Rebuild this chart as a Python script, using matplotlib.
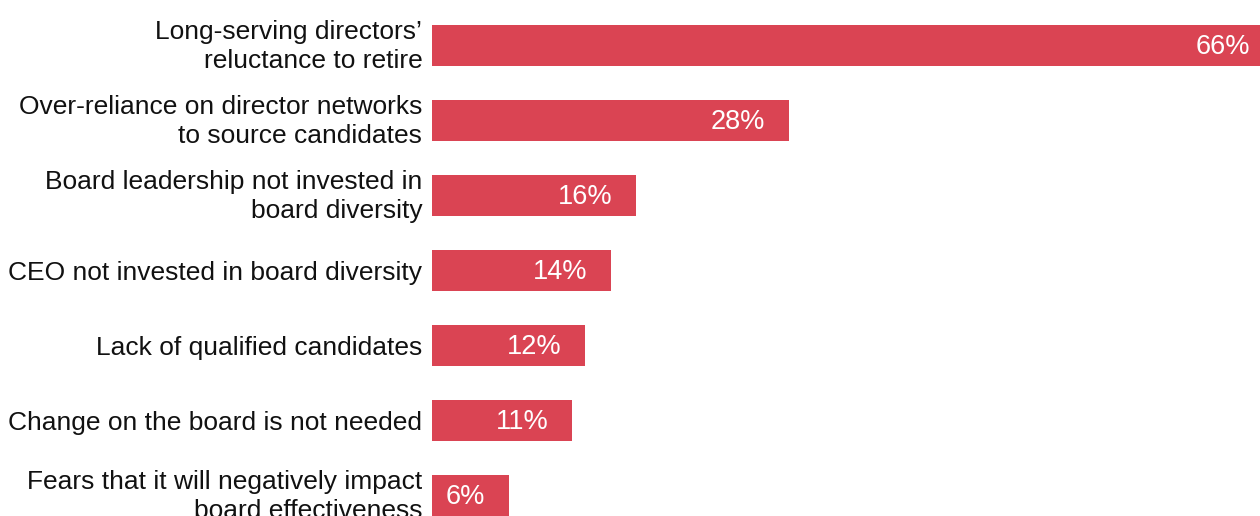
import matplotlib
matplotlib.use("Agg")
import matplotlib.pyplot as plt
from matplotlib.transforms import ScaledTranslation

categories = [
    "Long-serving directors’\nreluctance to retire",
    "Over-reliance on director networks\nto source candidates",
    "Board leadership not invested in\nboard diversity",
    "CEO not invested in board diversity",
    "Lack of qualified candidates",
    "Change on the board is not needed",
    "Fears that it will negatively impact\nboard effectiveness",
]
values = [66, 28, 16, 14, 12, 11, 6]
value_labels = ["66%", "28%", "16%", "14%", "12%", "11%", "6%"]

plt.rcParams['font.family'] = ['Liberation Sans', 'DejaVu Sans']

W, H = 1260, 516
fig = plt.figure(figsize=(W / 100, H / 100), dpi=100)
ax = fig.add_axes([432 / W, 0, 1 - 432 / W, 1])

color = "#DA4453"
pos = list(range(len(categories)))
ax.barh(pos, values, height=41 / 75, color=color, align='center')

ax.set_xlim(0, 828 / 12.75)
ax.set_ylim((516 - 45.5) / 75, -45.5 / 75)

for p, v, lab in zip(pos, values, value_labels):
    ax.text(v - 1.85, p + 0.02, lab, ha='right', va='center', color='white', fontsize=19.5)

ax.set_yticks(pos)
ax.set_yticklabels(categories, fontsize=19, ha='right', color='#111111', linespacing=1.25)
ax.tick_params(axis='y', length=0, pad=7)
ax.set_xticks([])
for s in ax.spines.values():
    s.set_visible(False)

shift = ScaledTranslation(0, 4 / 100, fig.dpi_scale_trans)
for lbl in ax.get_yticklabels():
    if "\n" in lbl.get_text():
        lbl.set_transform(lbl.get_transform() + shift)

fig.savefig("out.png", dpi=100)
